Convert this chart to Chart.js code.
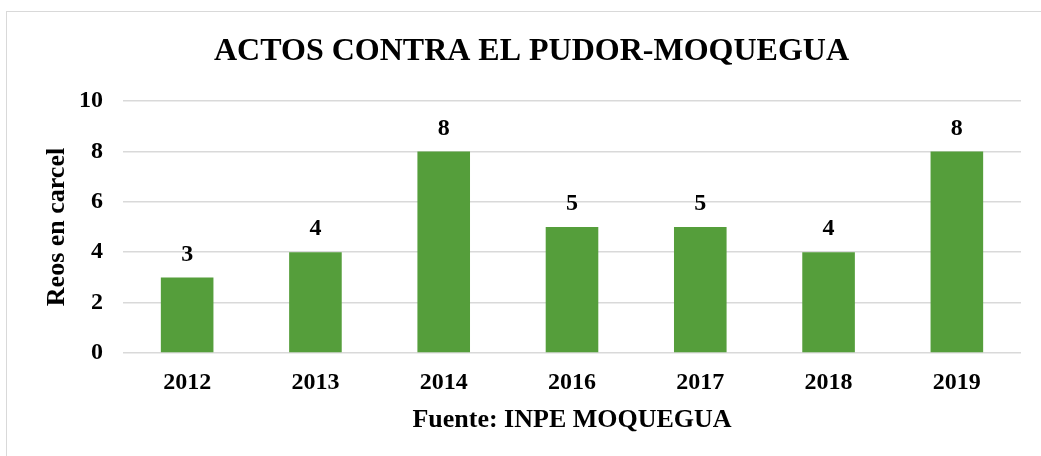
<!DOCTYPE html>
<html>
<head>
<meta charset="utf-8">
<script src="https://cdn.jsdelivr.net/npm/chart.js@4/dist/chart.umd.min.js"></script>
<style>
  body { margin: 0; background: #fff; }
  #wrap { position: relative; width: 1041px; height: 456px; }
  #frame { position: absolute; left: 6px; top: 11px; width: 1040px; height: 450px; border: 1px solid #d9d9d9; pointer-events: none; }
</style>
</head>
<body>
<div id="wrap">
  <canvas id="chart" width="1041" height="456"></canvas>
  <div id="frame"></div>
</div>
<script>
var years = ["2012", "2013", "2014", "2016", "2017", "2018", "2019"];
var reos = [3, 4, 8, 5, 5, 4, 8];
var yTicks = [0, 2, 4, 6, 8, 10];

var serif = "'Liberation Serif', 'Times New Roman', serif";

// etiquetas sobre las barras
var barLabels = {
    id: 'barLabels',
    afterDatasetsDraw(chart) {
        var ctx = chart.ctx;
        var meta = chart.getDatasetMeta(0);
        ctx.save();
        ctx.font = "bold 24px " + serif;
        ctx.fillStyle = "#000";
        ctx.textAlign = "center";
        ctx.textBaseline = "middle";
        meta.data.forEach(function (bar, i) {
            ctx.fillText(reos[i], bar.x, bar.y - 23);
        });
        ctx.restore();
    }
};

var ctx1 = document.getElementById("chart").getContext("2d");

new Chart(ctx1, {
    type: "bar",
    data: {
        labels: years,
        datasets: [{
            label: "Reos en carcel",
            data: reos,
            backgroundColor: "#559E3B",
            borderWidth: 0,
            barPercentage: 0.41,
            categoryPercentage: 1
        }]
    },
    options: {
        responsive: false,
        animation: false,
        layout: { padding: { left: 42, right: 20, top: 0, bottom: 20 } },
        plugins: {
            legend: { display: false },
            tooltip: { enabled: false },
            title: {
                display: true,
                text: "ACTOS CONTRA EL PUDOR-MOQUEGUA",
                color: "#000",
                font: { family: serif, size: 32, weight: "bold" },
                padding: { top: 33, bottom: 29.6 }
            }
        },
        scales: {
            y: {
                min: 0,
                max: 10,
                afterFit: function (scale) { scale.width = 81; },
                afterBuildTicks: function (scale) {
                    scale.ticks = yTicks.map(function (v) { return { value: v }; });
                },
                border: { display: false },
                grid: { color: "#d9d9d9", lineWidth: 1.5, drawTicks: false },
                ticks: {
                    color: "#000",
                    padding: 20,
                    font: { family: serif, size: 24, weight: "bold" }
                },
                title: {
                    display: true,
                    text: "Reos en carcel",
                    color: "#000",
                    padding: 0,
                    font: { family: serif, size: 26, weight: "bold" }
                }
            },
            x: {
                afterFit: function (scale) { scale.height = 83; },
                border: { display: false },
                grid: { display: false, drawTicks: false },
                ticks: {
                    color: "#000",
                    padding: 15,
                    maxRotation: 0,
                    font: { family: serif, size: 24, weight: "bold" }
                },
                title: {
                    display: true,
                    text: "Fuente: INPE MOQUEGUA",
                    color: "#000",
                    padding: 0,
                    font: { family: serif, size: 26, weight: "bold" }
                }
            }
        }
    },
    plugins: [barLabels]
});
</script>
</body>
</html>
